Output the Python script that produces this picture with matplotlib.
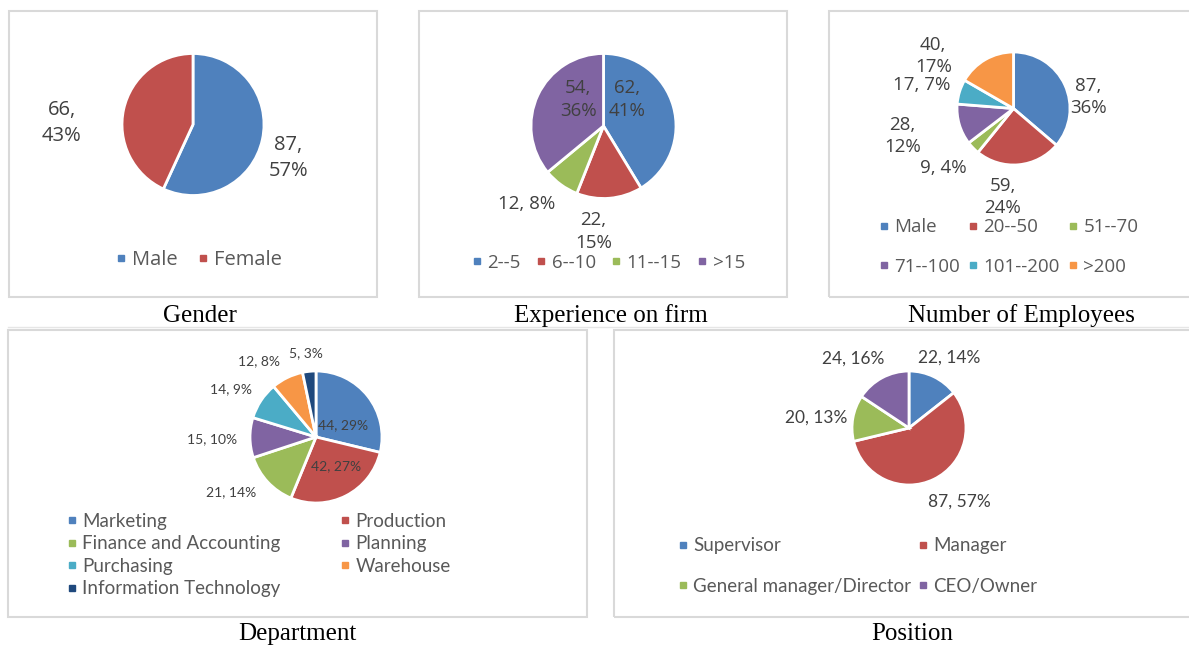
import matplotlib
matplotlib.use("Agg")
import matplotlib.pyplot as plt
from matplotlib.lines import Line2D
from matplotlib.patches import Rectangle

# ---- data ----
gender_labels = ["Male", "Female"]
gender_values = [87, 66]
gender_pct = [57, 43]

exp_labels = ["2--5", "6--10", "11--15", ">15"]
exp_values = [62, 22, 12, 54]
exp_pct = [41, 15, 8, 36]

emp_labels = ["Male", "20--50", "51--70", "71--100", "101--200", ">200"]
emp_values = [87, 59, 9, 28, 17, 40]
emp_pct = [36, 24, 4, 12, 7, 17]

dept_labels = ["Marketing", "Production", "Finance and Accounting", "Planning",
               "Purchasing", "Warehouse", "Information Technology"]
dept_values = [44, 42, 21, 15, 14, 12, 5]
dept_pct = [29, 27, 14, 10, 9, 8, 3]

pos_labels = ["Supervisor", "Manager", "General manager/Director", "CEO/Owner"]
pos_values = [22, 87, 20, 24]
pos_pct = [14, 57, 13, 16]

captions = ["Gender", "Experience on firm", "Number of Employees", "Department", "Position"]

# ---- style ----
PALETTE = ["#4F81BD", "#C0504D", "#9BBB59", "#8064A2", "#4BACC6", "#F79646", "#1F497D"]
LABEL_COLOR = "#404040"
LEGEND_COLOR = "#595959"
BORDER = "#D9D9D9"

W, H = 1189, 645
fig = plt.figure(figsize=(W / 100, H / 100), dpi=100)
fig.patch.set_facecolor("white")


def fx(x):
    return x / W


def fy(y):
    return 1 - y / H


def panel_box(x0, y0, x1, y1):
    fig.patches.append(Rectangle((fx(x0), fy(y1)), fx(x1) - fx(x0), fy(y0) - fy(y1),
                                 transform=fig.transFigure, fill=False,
                                 edgecolor=BORDER, linewidth=1.5))


def draw_pie(cx, cy, r, values, pct, offsets, seps, font, fsize, lspace):
    span = 2.6
    side = 2 * r * span
    ax = fig.add_axes([fx(cx - side / 2), fy(cy + side / 2), side / W, side / H])
    ax.pie(values, colors=PALETTE[:len(values)], startangle=90, counterclock=False,
           radius=1, wedgeprops=dict(edgecolor="white", linewidth=2))
    ax.set_xlim(-span, span)
    ax.set_ylim(-span, span)
    ax.set_aspect("equal")
    ax.axis("off")
    for v, p, (dx, dy), sep in zip(values, pct, offsets, seps):
        ax.text(dx, dy, f"{v},{sep}{p}%", ha="center", va="center", fontsize=fsize,
                family=font, color=LABEL_COLOR, linespacing=lspace, clip_on=False)
    return ax


def draw_legend(labels, order, ncol, x, y, font, fsize, labelspacing, colspacing):
    handles = [Line2D([], [], marker="s", linestyle="", markersize=5,
                      color=PALETTE[i], label=labels[i]) for i in order]
    leg = fig.legend(handles=handles, loc="center left", bbox_to_anchor=(fx(x), fy(y)),
                     ncol=ncol, frameon=False, borderpad=0, handlelength=0.5,
                     handletextpad=0.3, labelspacing=labelspacing,
                     columnspacing=colspacing, prop=dict(family=font, size=fsize))
    for t in leg.get_texts():
        t.set_color(LEGEND_COLOR)


# panel borders
panel_box(9, 11, 377, 297)
panel_box(419, 11, 787, 297)
panel_box(829, 11, 1195, 297)
panel_box(8, 330, 587, 617)
panel_box(614, 330, 1195, 617)
fig.add_artist(Line2D([fx(8), fx(1189)], [fy(327), fy(327)], color="#E6E6E6",
                      linewidth=1, transform=fig.transFigure))

# Gender
draw_pie(193, 124.5, 71, gender_values, gender_pct,
         [(1.34, -0.47), (-1.85, 0.02)], ["\n", "\n"], "Open Sans", 14.5, 1.4)
draw_legend(gender_labels, [0, 1], 2, 106, 260, "Open Sans", 14.5, 0.5, 1.0)

# Experience on firm
draw_pie(603.5, 126, 72.5, exp_values, exp_pct,
         [(0.32, 0.36), (-0.14, -1.46), (-1.06, -1.08), (-0.35, 0.36)],
         ["\n", "\n", " ", "\n"], "Open Sans", 13.5, 1.35)
draw_legend(exp_labels, [0, 1, 2, 3], 4, 463, 263, "Open Sans", 13.5, 0.5, 0.85)

# Number of Employees
draw_pie(1013.5, 108.5, 56.5, emp_values, emp_pct,
         [(1.32, 0.20), (-0.19, -1.57), (-1.25, -1.05), (-1.97, -0.49),
          (-1.62, 0.42), (-1.42, 0.93)],
         ["\n", "\n", " ", "\n", " ", "\n"], "Open Sans", 13.5, 1.3)
draw_legend(emp_labels, [0, 3, 1, 4, 2, 5], 3, 870, 247, "Open Sans", 13.5, 1.15, 0.45)

# Department
draw_pie(316, 437, 66, dept_values, dept_pct,
         [(0.41, 0.18), (0.30, -0.44), (-1.29, -0.83), (-1.58, -0.03),
          (-1.29, 0.73), (-0.86, 1.15), (-0.15, 1.27)],
         [" "] * 7, "Lato", 10, 1.2)
draw_legend(dept_labels, [0, 2, 4, 6, 1, 3, 5], 2, 58, 555, "Lato", 13.5, 0.3, 3.2)

# Position
draw_pie(909, 428, 57, pos_values, pos_pct,
         [(0.70, 1.23), (0.88, -1.30), (-1.63, 0.19), (-0.98, 1.21)],
         [" "] * 4, "Lato", 12.5, 1.2)
draw_legend(pos_labels, [0, 2, 1, 3], 2, 669, 566, "Lato", 13.5, 1.25, 0.35)

# captions
for text, (x, y) in zip(captions, [(200, 316), (611, 316), (1021, 316), (297, 634), (912, 634)]):
    fig.text(fx(x), fy(y), text, ha="center", va="center", family="Liberation Serif",
             fontsize=18, color="black")

fig.savefig("out.png", dpi=100, facecolor="white")
